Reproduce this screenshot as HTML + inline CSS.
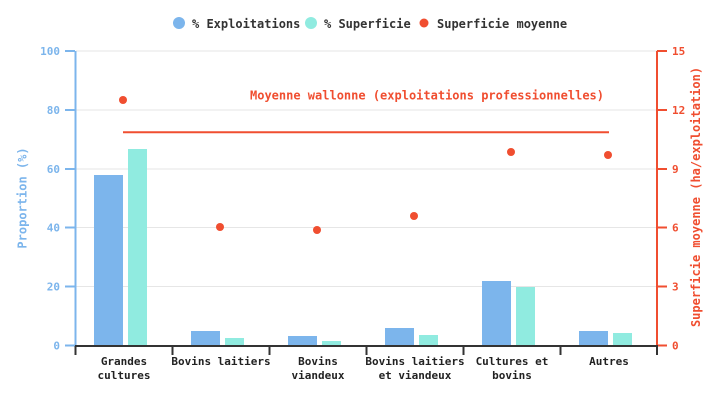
<!DOCTYPE html>
<html><head><meta charset="utf-8"><style>
html,body{margin:0;padding:0;background:#fff;}
svg{display:block;}
text{font-family:"DejaVu Sans Mono","Liberation Mono",monospace;font-weight:bold;}
</style></head><body>
<svg width="725" height="400" viewBox="0 0 725 400" xmlns="http://www.w3.org/2000/svg">
<rect width="725" height="400" fill="#fff"/>
<!-- legend -->
<circle cx="179" cy="23" r="6" fill="#7cb5ec"/>
<text x="192" y="28" font-size="12" fill="#333">% Exploitations</text>
<circle cx="311" cy="23" r="6" fill="#90ebe0"/>
<text x="324" y="28" font-size="12" fill="#333">% Superficie</text>
<circle cx="424" cy="23" r="4.5" fill="#f04e30"/>
<text x="437" y="28" font-size="12" fill="#333">Superficie moyenne</text>
<!-- gridlines -->
<g stroke="#e6e6e6" stroke-width="1">
<line x1="76" y1="51" x2="657" y2="51"/>
<line x1="76" y1="110" x2="657" y2="110"/>
<line x1="76" y1="169" x2="657" y2="169"/>
<line x1="76" y1="227.5" x2="657" y2="227.5"/>
<line x1="76" y1="286.5" x2="657" y2="286.5"/>
</g>
<!-- bars -->
<g fill="#7cb5ec">
<rect x="94" y="175" width="29" height="170.5"/>
<rect x="191" y="331" width="29" height="14.5"/>
<rect x="288" y="336" width="29" height="9.5"/>
<rect x="385" y="328" width="29" height="17.5"/>
<rect x="482" y="281" width="29" height="64.5"/>
<rect x="579" y="331" width="29" height="14.5"/>
</g>
<g fill="#90ebe0">
<rect x="128" y="149" width="19" height="196.5"/>
<rect x="225" y="338" width="19" height="7.5"/>
<rect x="322" y="341" width="19" height="4.5"/>
<rect x="419" y="335" width="19" height="10.5"/>
<rect x="516" y="287" width="19" height="58.5"/>
<rect x="613" y="333" width="19" height="12.5"/>
</g>
<!-- left axis -->
<line x1="75.5" y1="51" x2="75.5" y2="346" stroke="#7cb5ec" stroke-width="2"/>
<g stroke="#7cb5ec" stroke-width="2">
<line x1="65" y1="51" x2="75" y2="51"/>
<line x1="65" y1="110" x2="75" y2="110"/>
<line x1="65" y1="169" x2="75" y2="169"/>
<line x1="65" y1="227.5" x2="75" y2="227.5"/>
<line x1="65" y1="286.5" x2="75" y2="286.5"/>
<line x1="65" y1="345.5" x2="75" y2="345.5"/>
</g>
<g font-size="11" fill="#7cb5ec" text-anchor="end">
<text x="60" y="55">100</text>
<text x="60" y="114">80</text>
<text x="60" y="173">60</text>
<text x="60" y="231.5">40</text>
<text x="60" y="290.5">20</text>
<text x="60" y="349.5">0</text>
</g>
<text transform="translate(26.5,198) rotate(-90)" font-size="12" fill="#7cb5ec" text-anchor="middle">Proportion (%)</text>
<!-- right axis -->
<line x1="657" y1="51" x2="657" y2="346" stroke="#f04e30" stroke-width="2"/>
<g stroke="#f04e30" stroke-width="2">
<line x1="657" y1="51" x2="667" y2="51"/>
<line x1="657" y1="110" x2="667" y2="110"/>
<line x1="657" y1="169" x2="667" y2="169"/>
<line x1="657" y1="227.5" x2="667" y2="227.5"/>
<line x1="657" y1="286.5" x2="667" y2="286.5"/>
<line x1="657" y1="345.5" x2="667" y2="345.5"/>
</g>
<g font-size="11" fill="#f04e30">
<text x="672" y="55">15</text>
<text x="672" y="114">12</text>
<text x="672" y="173">9</text>
<text x="672" y="231.5">6</text>
<text x="672" y="290.5">3</text>
<text x="672" y="349.5">0</text>
</g>
<text transform="translate(700,197) rotate(-90)" font-size="12" fill="#f04e30" text-anchor="middle">Superficie moyenne (ha/exploitation)</text>
<!-- x axis -->
<line x1="75" y1="346" x2="658" y2="346" stroke="#333" stroke-width="2"/>
<g stroke="#333" stroke-width="2">
<line x1="75.5" y1="346" x2="75.5" y2="355"/>
<line x1="172.5" y1="346" x2="172.5" y2="355"/>
<line x1="269.5" y1="346" x2="269.5" y2="355"/>
<line x1="366.5" y1="346" x2="366.5" y2="355"/>
<line x1="463.5" y1="346" x2="463.5" y2="355"/>
<line x1="560.5" y1="346" x2="560.5" y2="355"/>
<line x1="657" y1="346" x2="657" y2="355"/>
</g>
<g font-size="11" fill="#222" text-anchor="middle">
<text x="124" y="365">Grandes</text>
<text x="124" y="379">cultures</text>
<text x="221" y="365">Bovins laitiers</text>
<text x="318" y="365">Bovins</text>
<text x="318" y="379">viandeux</text>
<text x="415" y="365">Bovins laitiers</text>
<text x="415" y="379">et viandeux</text>
<text x="512" y="365">Cultures et</text>
<text x="512" y="379">bovins</text>
<text x="609" y="365">Autres</text>
</g>
<!-- average line -->
<line x1="123" y1="132.3" x2="609" y2="132.3" stroke="#f04e30" stroke-width="2"/>
<text x="250" y="99.5" font-size="12" fill="#f04e30">Moyenne wallonne (exploitations professionnelles)</text>
<!-- dots -->
<g fill="#f04e30">
<circle cx="123" cy="100" r="4"/>
<circle cx="220" cy="227" r="4"/>
<circle cx="317" cy="230" r="4"/>
<circle cx="414" cy="216" r="4"/>
<circle cx="511" cy="152" r="4"/>
<circle cx="608" cy="155" r="4"/>
</g>
</svg>
</body></html>
